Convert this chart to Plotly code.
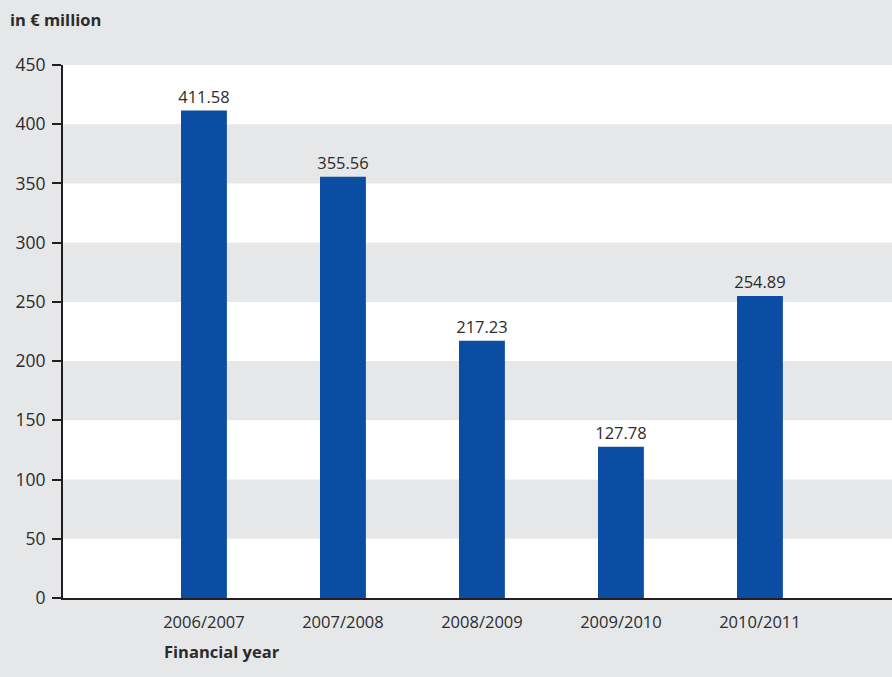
import plotly.graph_objects as go

categories = ["2006/2007", "2007/2008", "2008/2009", "2009/2010", "2010/2011"]
values = [411.58, 355.56, 217.23, 127.78, 254.89]
value_labels = ["411.58", "355.56", "217.23", "127.78", "254.89"]
y_ticks = [0, 50, 100, 150, 200, 250, 300, 350, 400, 450]

x_pos = list(range(1, len(categories) + 1))

BG = "#e6e7e9"
BAR = "#0b4da2"
TXT = "#2b2b2b"
FONT = "Open Sans"

fig = go.Figure()
fig.add_trace(go.Bar(
    x=x_pos, y=values, width=0.33,
    marker=dict(color=BAR, line=dict(width=0)),
    text=value_labels, textposition="outside", constraintext="none",
    textfont=dict(family=FONT, size=16.5, color=TXT),
    cliponaxis=False,
))

shapes = []
for i in range(len(y_ticks) - 1):
    if i % 2 == 1:
        shapes.append(dict(type="rect", xref="paper", yref="y", x0=0, x1=1,
                           y0=y_ticks[i], y1=y_ticks[i + 1],
                           fillcolor=BG, line=dict(width=0), layer="below"))

fig.update_layout(
    width=892, height=677,
    margin=dict(l=63, r=0, t=65, b=79),
    paper_bgcolor=BG, plot_bgcolor="white",
    showlegend=False,
    shapes=shapes,
    font=dict(family=FONT, color=TXT),
    xaxis=dict(
        range=[-0.014, 5.95], tickmode="array", tickvals=x_pos, ticktext=categories,
        showgrid=False, zeroline=False, showline=True, linecolor="#231f20", linewidth=2,
        ticks="", ticklabelstandoff=8, tickfont=dict(family=FONT, size=16.5, color=TXT),
    ),
    yaxis=dict(
        range=[0, 450], tickmode="array", tickvals=y_ticks,
        showgrid=False, zeroline=False, showline=True, linecolor="#231f20", linewidth=2,
        ticks="outside", ticklen=9, tickwidth=2, tickcolor="#231f20",
        ticklabelstandoff=3,
        tickfont=dict(family=FONT, size=17.5, color=TXT),
    ),
    annotations=[
        dict(text="<b>in € million</b>", xref="paper", yref="paper", x=-55/829, y=1 + 46/533,
             xanchor="left", yanchor="middle", showarrow=False,
             font=dict(family=FONT, size=16.5, color=TXT)),
        dict(text="<b>Financial year</b>", xref="paper", yref="paper", x=(162-63)/829, y=-53/533,
             xanchor="left", yanchor="middle", showarrow=False,
             font=dict(family=FONT, size=16.5, color=TXT)),
    ],
)

fig.write_html("out.html", config={"displayModeBar": False},
               post_script="document.body.style.margin='0';document.body.style.overflow='hidden';")
